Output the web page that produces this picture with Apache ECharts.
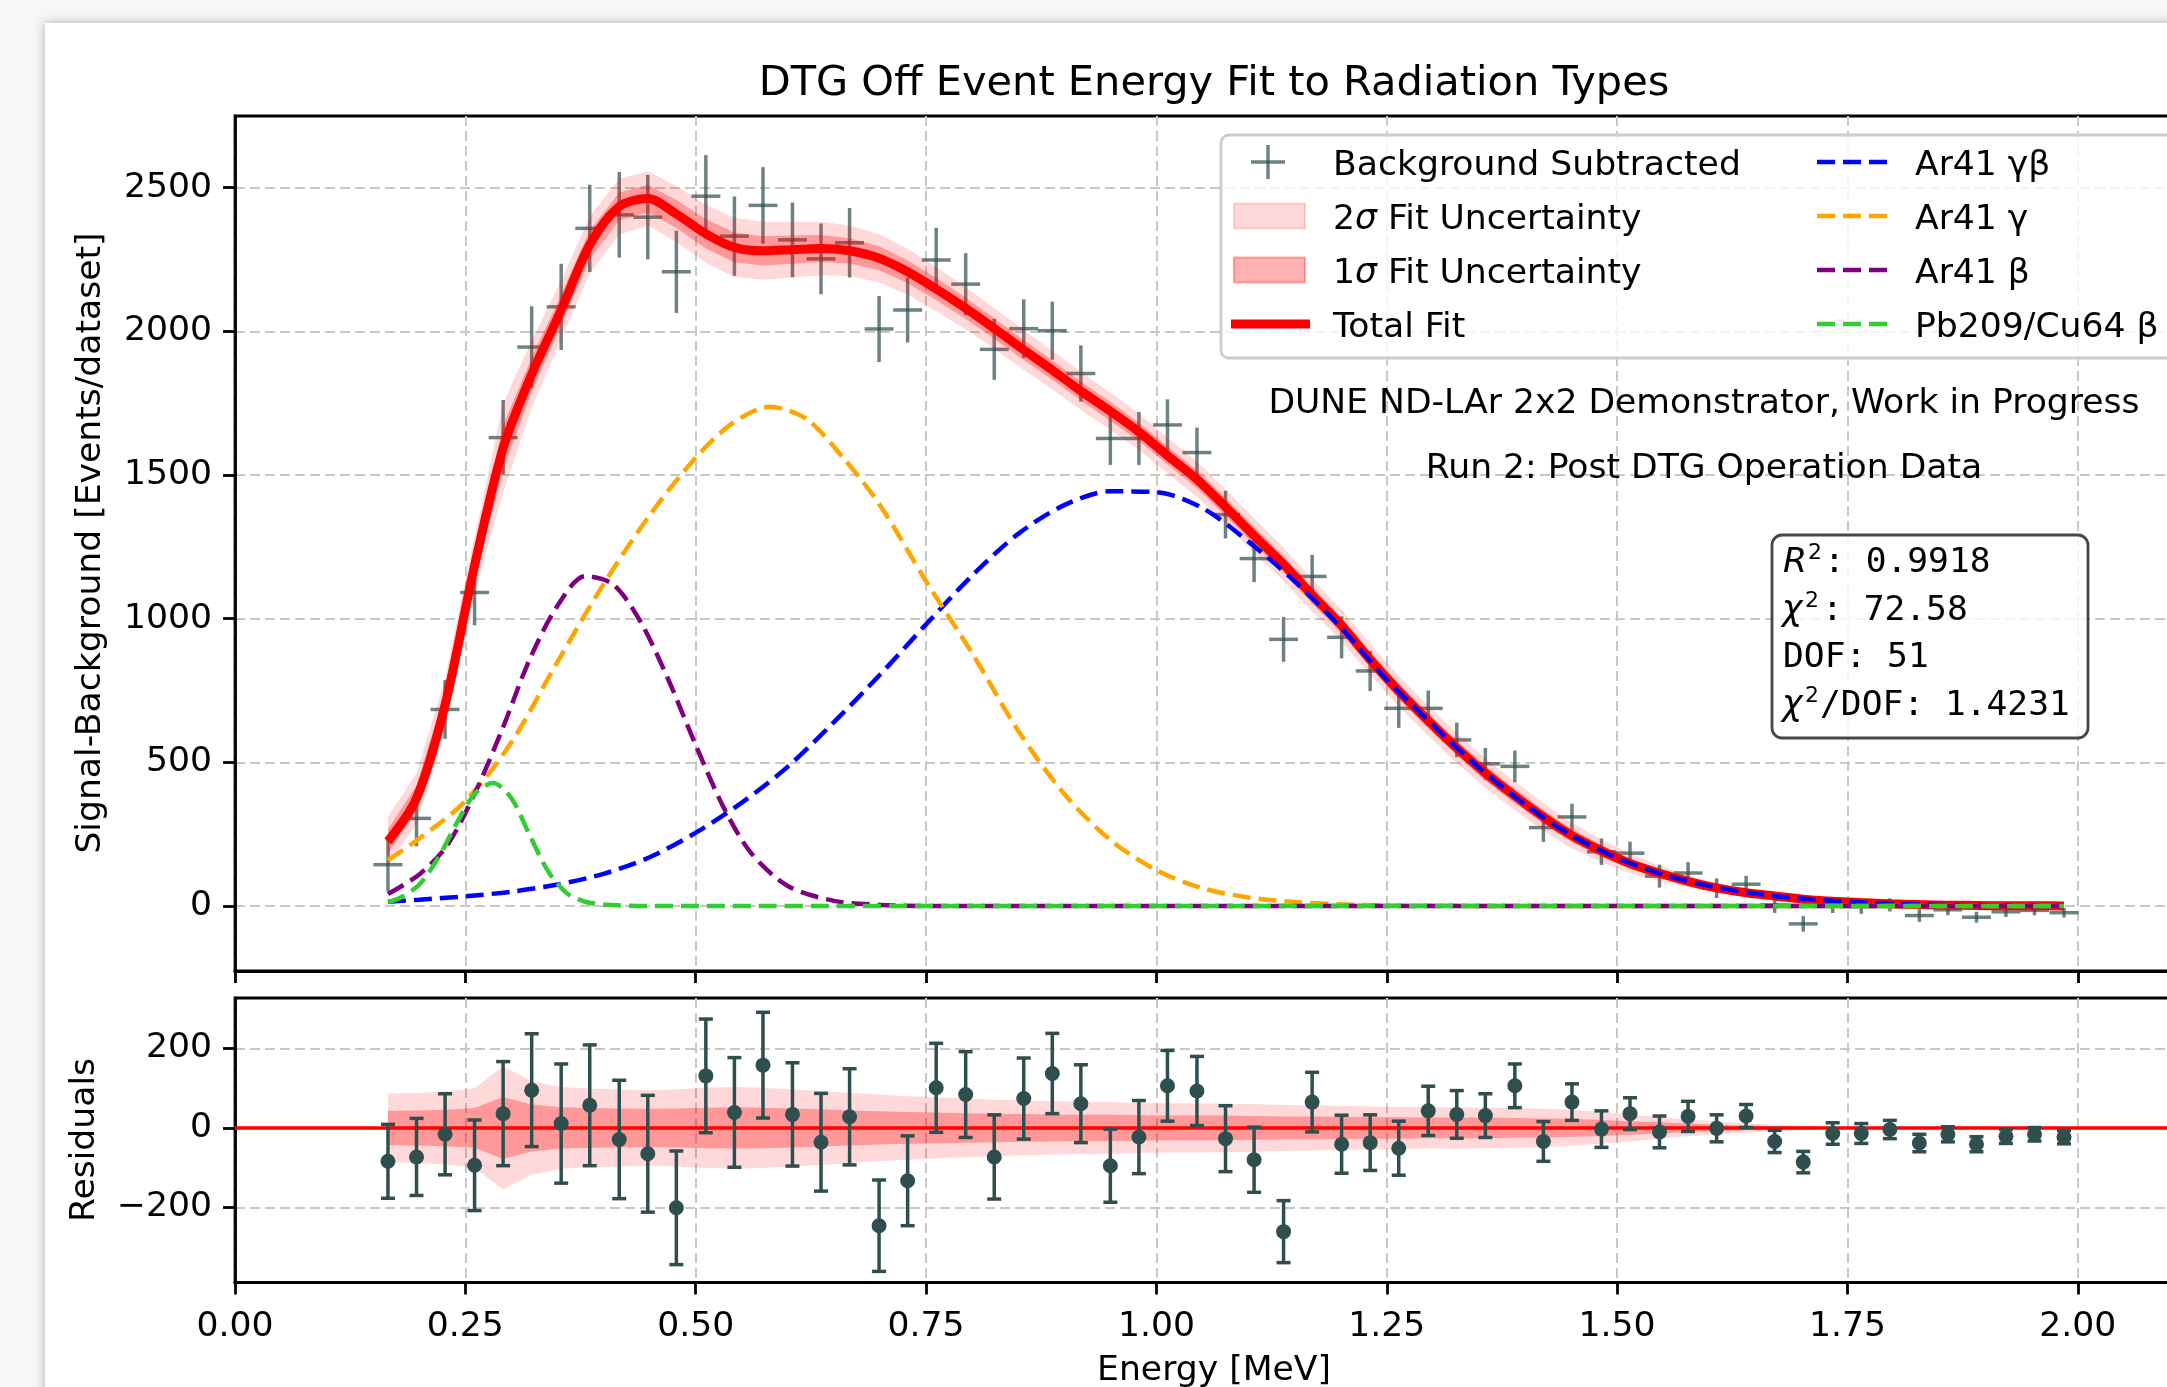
<!DOCTYPE html>
<html>
<head>
<meta charset="utf-8">
<script src="https://cdn.jsdelivr.net/npm/echarts@6/dist/echarts.min.js"></script>
<style>
  html, body { margin: 0; padding: 0; width: 2167px; height: 1387px; overflow: hidden; background: #f5f7f9; }
  #card { position: absolute; left: 45px; top: 23px; width: 2200px; height: 1450px; background: #fff; box-shadow: 0 0 10px rgba(0,0,0,0.3); }
  #chart { position: absolute; left: 0; top: 0; width: 2240px; height: 1387px; }
</style>
</head>
<body>
<div id="card"></div>
<div id="chart"></div>
<script>
// bin centres [MeV]
const energy = [0.166, 0.197, 0.228, 0.260, 0.291, 0.322, 0.354, 0.385, 0.417, 0.448,
  0.479, 0.511, 0.542, 0.573, 0.605, 0.636, 0.667, 0.699, 0.730, 0.761,
  0.793, 0.824, 0.856, 0.887, 0.918, 0.950, 0.981, 1.012, 1.044, 1.075,
  1.106, 1.138, 1.169, 1.201, 1.232, 1.263, 1.295, 1.326, 1.357, 1.389,
  1.420, 1.451, 1.483, 1.514, 1.546, 1.577, 1.608, 1.640, 1.671, 1.702,
  1.734, 1.765, 1.796, 1.828, 1.859, 1.890, 1.922, 1.953, 1.985];
// background subtracted counts and their errors
const counts = [144, 305, 684, 1091, 1630, 1945, 2085, 2358, 2405, 2397,
  2207, 2470, 2331, 2438, 2318, 2252, 2308, 2008, 2074, 2248,
  2164, 1937, 2009, 2002, 1853, 1627, 1627, 1674, 1578, 1362,
  1209, 928, 1147, 935, 818, 688, 688, 578, 495, 486,
  273, 310, 189, 184, 104, 115, 62, 76, 4, -62,
  3, -2, 4, -33, -13, -39, -20, -15, -23];
const countErr = [93, 97, 102, 114, 131, 142, 150, 152, 149, 147,
  143, 143, 138, 133, 130, 123, 121, 115, 113, 112,
  108, 106, 102, 101, 98, 92, 92, 89, 87, 83,
  82, 78, 75, 73, 70, 68, 62, 60, 55, 55,
  50, 46, 46, 40, 40, 38, 34, 29, 28, 27,
  27, 25, 23, 22, 19, 19, 18, 17, 17];
// total fit at bin centres, with 1 and 2 sigma widths
const totalFit = [225, 375, 700, 1185, 1594, 1850, 2074, 2301, 2434, 2462,
  2408, 2339, 2292, 2280, 2284, 2288, 2280, 2254, 2207, 2147,
  2080, 2010, 1935, 1865, 1792, 1722, 1650, 1568, 1485, 1389,
  1289, 1189, 1082, 976, 858, 748, 645, 550, 463, 383,
  310, 245, 192, 148, 114, 86, 63, 46, 35, 24,
  17, 12, 8, 5, 3, 2, 1, 1, 0];
const sigma1 = [43, 44, 46, 50, 78, 59, 52, 50, 49, 48,
  49, 51, 52, 51, 49, 47, 44, 42, 40, 39,
  37, 36, 35, 34, 33, 33, 32, 31, 31, 31,
  30, 29, 29, 28, 27, 27, 26, 26, 26, 25,
  24, 23, 20, 17, 14, 11, 8, 6, 4, 3,
  2, 2, 1, 1, 1, 0, 0, 0, 0];
const sigma2 = [86, 88, 92, 100, 155, 118, 103, 99, 97, 95,
  97, 101, 103, 101, 97, 93, 88, 84, 80, 77,
  74, 71, 69, 67, 66, 65, 63, 62, 62, 61,
  60, 58, 57, 55, 54, 53, 52, 52, 51, 50,
  48, 45, 40, 34, 27, 21, 16, 12, 8, 6,
  4, 3, 2, 1, 1, 1, 0, 0, 0];
const residuals = [-84, -73, -16, -94, 36, 95, 11, 57, -29, -65,
  -201, 131, 39, 158, 34, -36, 28, -246, -133, 101,
  84, -73, 74, 137, 61, -95, -23, 106, 93, -27,
  -80, -261, 65, -41, -37, -51, 43, 34, 31, 106,
  -34, 65, -3, 36, -10, 29, -1, 30, -34, -86,
  -14, -14, -4, -38, -16, -41, -21, -16, -23];

// fit components
const gammaBetaE = [0.166, 0.2, 0.25, 0.3, 0.35, 0.4, 0.45, 0.5, 0.55, 0.6,
  0.65, 0.7, 0.75, 0.8, 0.85, 0.9, 0.95, 1.0, 1.05, 1.1,
  1.15, 1.2, 1.25, 1.3, 1.35, 1.4, 1.45, 1.5, 1.55, 1.6,
  1.65, 1.7, 1.75, 1.8, 1.85, 1.9, 1.95, 1.985];
const ar41GammaBeta = [15, 22, 34, 50, 75, 112, 170, 255, 360, 485,
  640, 805, 980, 1150, 1295, 1395, 1443, 1440, 1385, 1268,
  1130, 970, 788, 630, 482, 354, 247, 167, 110, 70,
  43, 26, 15, 8, 4, 2, 1, 0];
const gammaE = [0.166, 0.2, 0.25, 0.3, 0.35, 0.4, 0.45, 0.5, 0.54, 0.58,
  0.62, 0.66, 0.7, 0.75, 0.8, 0.85, 0.9, 0.95, 1.0, 1.05,
  1.1, 1.15, 1.2, 1.25, 1.3, 1.4, 1.6, 1.985];
const ar41Gamma = [160, 235, 365, 570, 850, 1120, 1360, 1560, 1680, 1737,
  1695, 1560, 1395, 1130, 880, 610, 390, 230, 125, 62,
  30, 14, 6, 2, 1, 0, 0, 0];
const betaE = [0.166, 0.2, 0.23, 0.26, 0.29, 0.32, 0.35, 0.38, 0.41, 0.44,
  0.47, 0.5, 0.53, 0.56, 0.6, 0.65, 0.7, 0.75, 1.0, 1.5, 1.985];
const ar41Beta = [42, 110, 210, 390, 615, 860, 1045, 1148, 1120, 990,
  790, 560, 345, 185, 70, 18, 4, 0, 0, 0, 0];
const pbE = [0.166, 0.18, 0.2, 0.22, 0.24, 0.26, 0.28, 0.3, 0.32, 0.34,
  0.36, 0.38, 0.4, 0.45, 0.5, 1.0, 1.5, 1.985];
const pbCuBeta = [14, 30, 75, 165, 285, 390, 428, 375, 245, 120,
  45, 15, 5, 0, 0, 0, 0, 0];

const xTicks = [0, 0.25, 0.5, 0.75, 1.0, 1.25, 1.5, 1.75, 2.0];
const yTicksTop = [0, 500, 1000, 1500, 2000, 2500];
const yTicksRes = [-200, 0, 200];
const binHalfWidth = 0.0157;

const FONT = 'DejaVu Sans';
const MONO = 'DejaVu Sans Mono';
const FS = 34.6;
const DATA_COLOR = 'rgba(47,79,79,0.7)';
const RES_COLOR = '#2f4f4f';

const chart = echarts.init(document.getElementById('chart'), null, { renderer: 'canvas' });

function xAxisOpt(gi) {
  return {
    type: 'value', gridIndex: gi, min: 0, max: 2.125, interval: 0.25,
    axisLine: { show: true, onZero: false, lineStyle: { color: '#000', width: 2.8 } },
    axisTick: { show: true, length: 12, customValues: xTicks, lineStyle: { color: '#000', width: 2.8 } },
    axisLabel: {
      show: gi === 1, customValues: xTicks, margin: 27, color: '#000',
      fontFamily: FONT, fontSize: FS, formatter: v => v.toFixed(2)
    },
    splitLine: { show: true, lineStyle: { color: '#c8c8c8', width: 2, type: [10, 5] } }
  };
}
function yAxisOpt(gi, min, max, ticks, split) {
  return {
    type: 'value', gridIndex: gi, min: min, max: max, splitNumber: split,
    axisLine: { show: true, onZero: false, lineStyle: { color: '#000', width: 2.8 } },
    axisTick: { show: true, length: 12, customValues: ticks, lineStyle: { color: '#000', width: 2.8 } },
    axisLabel: {
      customValues: ticks, margin: 23, color: '#000', fontFamily: FONT, fontSize: FS,
      formatter: v => (v < 0 ? '\u2212' + Math.abs(v) : String(v))
    },
    splitLine: { show: true, lineStyle: { color: '#c8c8c8', width: 2, type: [10, 5] } }
  };
}

function bandSeries(gi, centre, sig, color, z) {
  return {
    type: 'custom', xAxisIndex: gi, yAxisIndex: gi, z: z, silent: true,
    data: [[energy[0], centre[0]]],
    renderItem: function (params, api) {
      const pts = [];
      for (let i = 0; i < energy.length; i++) pts.push(api.coord([energy[i], centre[i] + sig[i]]));
      for (let i = energy.length - 1; i >= 0; i--) pts.push(api.coord([energy[i], centre[i] - sig[i]]));
      return { type: 'polygon', shape: { points: pts }, style: { fill: color } };
    }
  };
}

function compSeries(xs, ys, color) {
  return {
    type: 'line', xAxisIndex: 0, yAxisIndex: 0, z: 6, silent: true,
    data: xs.map((e, i) => [e, ys[i]]), showSymbol: false, smooth: 0.3,
    lineStyle: { color: color, width: 4.5, type: [18, 8] }
  };
}

const zeros = energy.map(() => 0);

const series = [
  {
    // data crosses
    type: 'custom', xAxisIndex: 0, yAxisIndex: 0, z: 2, silent: true,
    data: energy.map((e, i) => [e, counts[i], countErr[i]]),
    renderItem: function (params, api) {
      const x = api.value(0), y = api.value(1), e = api.value(2);
      const t = api.coord([x, y + e]), b = api.coord([x, y - e]);
      const l = api.coord([x - binHalfWidth, y]), r = api.coord([x + binHalfWidth, y]);
      const st = { stroke: DATA_COLOR, lineWidth: 3.5 };
      return { type: 'group', children: [
        { type: 'line', shape: { x1: t[0], y1: t[1], x2: b[0], y2: b[1] }, style: st },
        { type: 'line', shape: { x1: l[0], y1: l[1], x2: r[0], y2: r[1] }, style: st }
      ] };
    }
  },
  bandSeries(0, totalFit, sigma2, 'rgba(255,0,0,0.15)', 3),
  bandSeries(0, totalFit, sigma1, 'rgba(255,0,0,0.3)', 3),
  {
    type: 'line', xAxisIndex: 0, yAxisIndex: 0, z: 4, silent: true,
    data: energy.map((e, i) => [e, totalFit[i]]), showSymbol: false, smooth: 0.3,
    lineStyle: { color: '#ff0000', width: 9 }
  },
  compSeries(gammaBetaE, ar41GammaBeta, '#0000ff'),
  compSeries(gammaE, ar41Gamma, '#ffa500'),
  compSeries(betaE, ar41Beta, '#800080'),
  compSeries(pbE, pbCuBeta, '#32cd32'),
  bandSeries(1, zeros, sigma2, 'rgba(255,0,0,0.15)', 3),
  Object.assign(bandSeries(1, zeros, sigma1, 'rgba(255,0,0,0.3)', 3), {
    markLine: {
      silent: true, symbol: 'none', label: { show: false }, z: 4,
      lineStyle: { color: '#ff0000', width: 3.5, type: 'solid' },
      data: [{ yAxis: 0 }]
    }
  }),
  {
    // residual points with error bars
    type: 'custom', xAxisIndex: 1, yAxisIndex: 1, z: 6, silent: true,
    data: energy.map((e, i) => [e, residuals[i], countErr[i]]),
    renderItem: function (params, api) {
      const x = api.value(0), y = api.value(1), e = api.value(2);
      const c = api.coord([x, y]), t = api.coord([x, y + e]), b = api.coord([x, y - e]);
      const cap = 7;
      const st = { stroke: RES_COLOR, lineWidth: 3.5 };
      return { type: 'group', children: [
        { type: 'line', shape: { x1: c[0], y1: t[1], x2: c[0], y2: b[1] }, style: st },
        { type: 'line', shape: { x1: c[0] - cap, y1: t[1], x2: c[0] + cap, y2: t[1] }, style: st },
        { type: 'line', shape: { x1: c[0] - cap, y1: b[1], x2: c[0] + cap, y2: b[1] }, style: st },
        { type: 'circle', shape: { cx: c[0], cy: c[1], r: 7.5 }, style: { fill: RES_COLOR } }
      ] };
    }
  }
];

function txt(text, x, y, opts) {
  opts = opts || {};
  return {
    type: 'text', x: x, y: y, z: 100, rotation: opts.rotation || 0,
    style: Object.assign({
      text: text, fill: '#000', fontFamily: FONT, fontSize: FS,
      textAlign: opts.align || 'center', textVerticalAlign: 'middle', verticalAlign: 'middle'
    }, opts.style || {})
  };
}
function hline(x1, x2, y, color, width, dash) {
  return { type: 'line', z: 100, shape: { x1: x1, y1: y, x2: x2, y2: y },
    style: { stroke: color, lineWidth: width, lineDash: dash || null } };
}

const rows = [162, 216, 270, 324];
const dy = 4; // text centre offset
const legendCol2 = [['Ar41 \u03b3\u03b2', '#0000ff'], ['Ar41 \u03b3', '#ffa500'], ['Ar41 \u03b2', '#800080'], ['Pb209/Cu64 \u03b2', '#32cd32']];
const italicRich = { i: { fontStyle: 'italic', fontFamily: FONT, fontSize: FS } };

const graphic = [
  txt('DTG Off Event Energy Fit to Radiation Types', 1214, 84, { style: { fontSize: 41.5 } }),
  txt('Signal-Background [Events/dataset]', 91, 543, { rotation: Math.PI / 2 }),
  txt('Residuals', 85, 1140, { rotation: Math.PI / 2 }),
  txt('Energy [MeV]', 1214, 1371),
  // legend
  { type: 'rect', z: 99, shape: { x: 1221, y: 135, width: 1000, height: 223, r: 8 },
    style: { fill: 'rgba(255,255,255,0.8)', stroke: '#cccccc', lineWidth: 2.8 } },
  { type: 'line', z: 100, shape: { x1: 1268, y1: rows[0] - 17, x2: 1268, y2: rows[0] + 17 }, style: { stroke: DATA_COLOR, lineWidth: 3.5 } },
  hline(1251, 1285, rows[0], DATA_COLOR, 3.5),
  { type: 'rect', z: 100, shape: { x: 1234, y: rows[1] - 12.5, width: 71, height: 25 },
    style: { fill: 'rgba(255,0,0,0.15)', stroke: 'rgba(255,0,0,0.15)', lineWidth: 2 } },
  { type: 'rect', z: 100, shape: { x: 1234, y: rows[2] - 12.5, width: 71, height: 25 },
    style: { fill: 'rgba(255,0,0,0.3)', stroke: 'rgba(255,0,0,0.3)', lineWidth: 2 } },
  hline(1231, 1310, rows[3], '#ff0000', 9),
  txt('Background Subtracted', 1333, rows[0] + dy, { align: 'left' }),
  txt('2{i|\u03c3} Fit Uncertainty', 1333, rows[1] + dy, { align: 'left', style: { rich: italicRich } }),
  txt('1{i|\u03c3} Fit Uncertainty', 1333, rows[2] + dy, { align: 'left', style: { rich: italicRich } }),
  txt('Total Fit', 1333, rows[3] + dy, { align: 'left' }),
  // annotations
  txt('DUNE ND-LAr 2x2 Demonstrator, Work in Progress', 1704, 404),
  txt('Run 2: Post DTG Operation Data', 1704, 469),
  // fit statistics box
  { type: 'rect', z: 99, shape: { x: 1772, y: 535, width: 316, height: 203, r: 10 },
    style: { fill: 'rgba(255,255,255,0.8)', stroke: 'rgba(0,0,0,0.72)', lineWidth: 2.8 } },
  txt('R', 1783, 563, { align: 'left', style: { fontStyle: 'italic' } }),
  txt('2', 1808, 553, { align: 'left', style: { fontSize: 22 } }),
  txt(': 0.9918', 1824, 563, { align: 'left', style: { fontFamily: MONO } }),
  txt('\u03c7', 1782, 611, { align: 'left', style: { fontStyle: 'italic' } }),
  txt('2', 1805, 601, { align: 'left', style: { fontSize: 22 } }),
  txt(': 72.58', 1822, 611, { align: 'left', style: { fontFamily: MONO } }),
  txt('DOF: 51', 1783, 658, { align: 'left', style: { fontFamily: MONO } }),
  txt('\u03c7', 1782, 706, { align: 'left', style: { fontStyle: 'italic' } }),
  txt('2', 1805, 696, { align: 'left', style: { fontSize: 22 } }),
  txt('/DOF: 1.4231', 1820, 706, { align: 'left', style: { fontFamily: MONO } })
];
legendCol2.forEach((item, i) => {
  graphic.push(hline(1817, 1887, rows[i], item[1], 4.5, [18, 8]));
  graphic.push(txt(item[0], 1915, rows[i] + dy, { align: 'left' }));
});

chart.setOption({
  animation: false,
  grid: [
    { left: 235, top: 116, width: 1958, height: 855, outerBoundsMode: 'none', show: true, borderColor: '#000', borderWidth: 2.8 },
    { left: 235, top: 998, width: 1958, height: 284.5, outerBoundsMode: 'none', show: true, borderColor: '#000', borderWidth: 2.8 }
  ],
  xAxis: [xAxisOpt(0), xAxisOpt(1)],
  yAxis: [yAxisOpt(0, -226, 2749, yTicksTop, 5), yAxisOpt(1, -389, 327, yTicksRes, 3)],
  series: series,
  graphic: graphic
});
</script>
</body>
</html>
